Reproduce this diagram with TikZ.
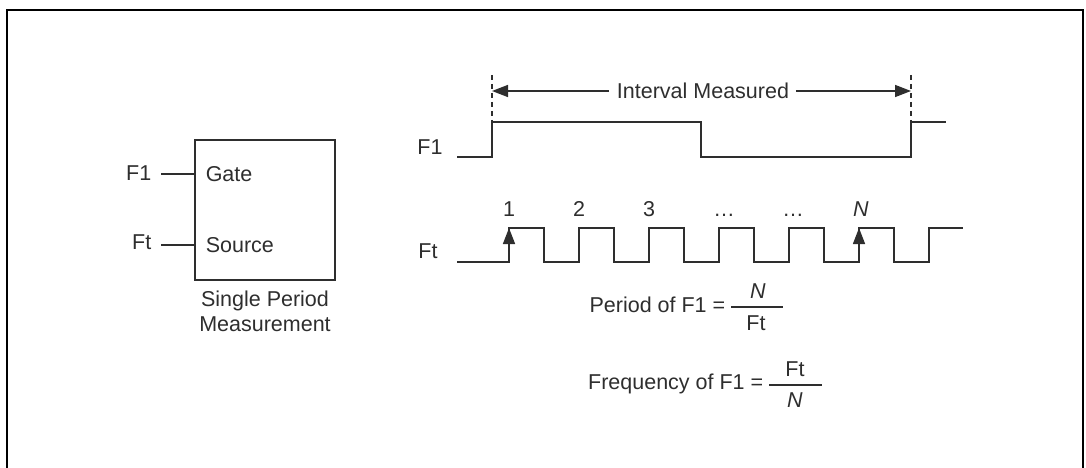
\documentclass[tikz,border=0pt]{standalone}
\usepackage{fontspec}
\setmainfont{Liberation Sans}
\usetikzlibrary{arrows.meta}

\definecolor{wire}{rgb}{0.18,0.18,0.18}

\begin{document}
\begin{tikzpicture}[x=1pt, y=-1pt, line width=1.5pt, draw=wire,
  every node/.style={font=\fontsize{21.5}{25}\selectfont, text=wire, inner sep=0pt},
  tip/.style={-{Triangle[length=16pt, width=12pt]}}]
\useasboundingbox (0,0) rectangle (1086,468);
\draw[line width=2pt, black] (7,475) -- (7,10) -- (1083,10) -- (1083,475);
% counter block
\node[draw, minimum width=140pt, minimum height=140pt] (meas) at (265,210) {};
\coordinate (gin) at (161,174);
\coordinate (sin) at (161,245);
\draw (gin) -- (gin -| meas.west);
\draw (sin) -- (sin -| meas.west);
\node[anchor=east] (f1in) at (152,173) {F1};
\node[anchor=east] (ftin) at (152,242) {Ft};
\node[anchor=west] (gate) at (205,174) {Gate};
\node[anchor=west] (src) at (205,245) {Source};
\node[align=center] (cap) at (265,311) {Single Period\\Measurement};
% F1 waveform
\node (f1lbl) at (430,147) {F1};
\draw (457,157) -- (492,157) -- (492,122) -- (701,122) -- (701,157)
  -- (911,157) -- (911,122) -- (946,122);
\draw[dashed, dash pattern=on 5pt off 4pt] (492,75) -- (492,122);
\draw[dashed, dash pattern=on 5pt off 4pt] (911,75) -- (911,122);
\coordinate (lend) at (492,91);
\coordinate (rend) at (911,91);
\node (ivl) at (703,91) {Interval Measured};
\draw[tip] ([xshift=-7pt]ivl.west) -- (lend);
\draw[tip] ([xshift=6pt]ivl.east) -- (rend);
% Ft waveform
\node (ftlbl) at (428,251) {Ft};
\draw (457,262) \foreach \k in {0,...,5}{ -- ({509+70*\k},262) -- ({509+70*\k},228)
  -- ({544+70*\k},228) -- ({544+70*\k},262) } -- (929,262) -- (929,228) -- (963,228);
\coordinate (e1) at (509,228);
\coordinate (eN) at (859,228);
\draw[tip] (509,246) -- (e1);
\draw[tip] (859,246) -- (eN);
\node[anchor=base] (c1) at (509,216) {1};
\node[anchor=base] (c2) at (579,216) {2};
\node[anchor=base] (c3) at (649,216) {3};
\node[anchor=base] (c4) at (724,216) {…};
\node[anchor=base] (c5) at (793,216) {…};
\node[anchor=base] (cN) at (861,216) {\itshape N};
% formulas
\node[anchor=base east] (per) at (726,312) {Period of F1 =};
\draw (731,307) -- (783,307);
\node[anchor=base] (pnum) at (758,298) {\itshape N};
\node[anchor=base] (pden) at (756,330) {Ft};
\node[anchor=base east] (frq) at (764,389) {Frequency of F1 =};
\draw (769,385) -- (822,385);
\node[anchor=base] (fnum) at (795,376) {Ft};
\node[anchor=base] (fden) at (795,407) {\itshape N};
\end{tikzpicture}
\end{document}
